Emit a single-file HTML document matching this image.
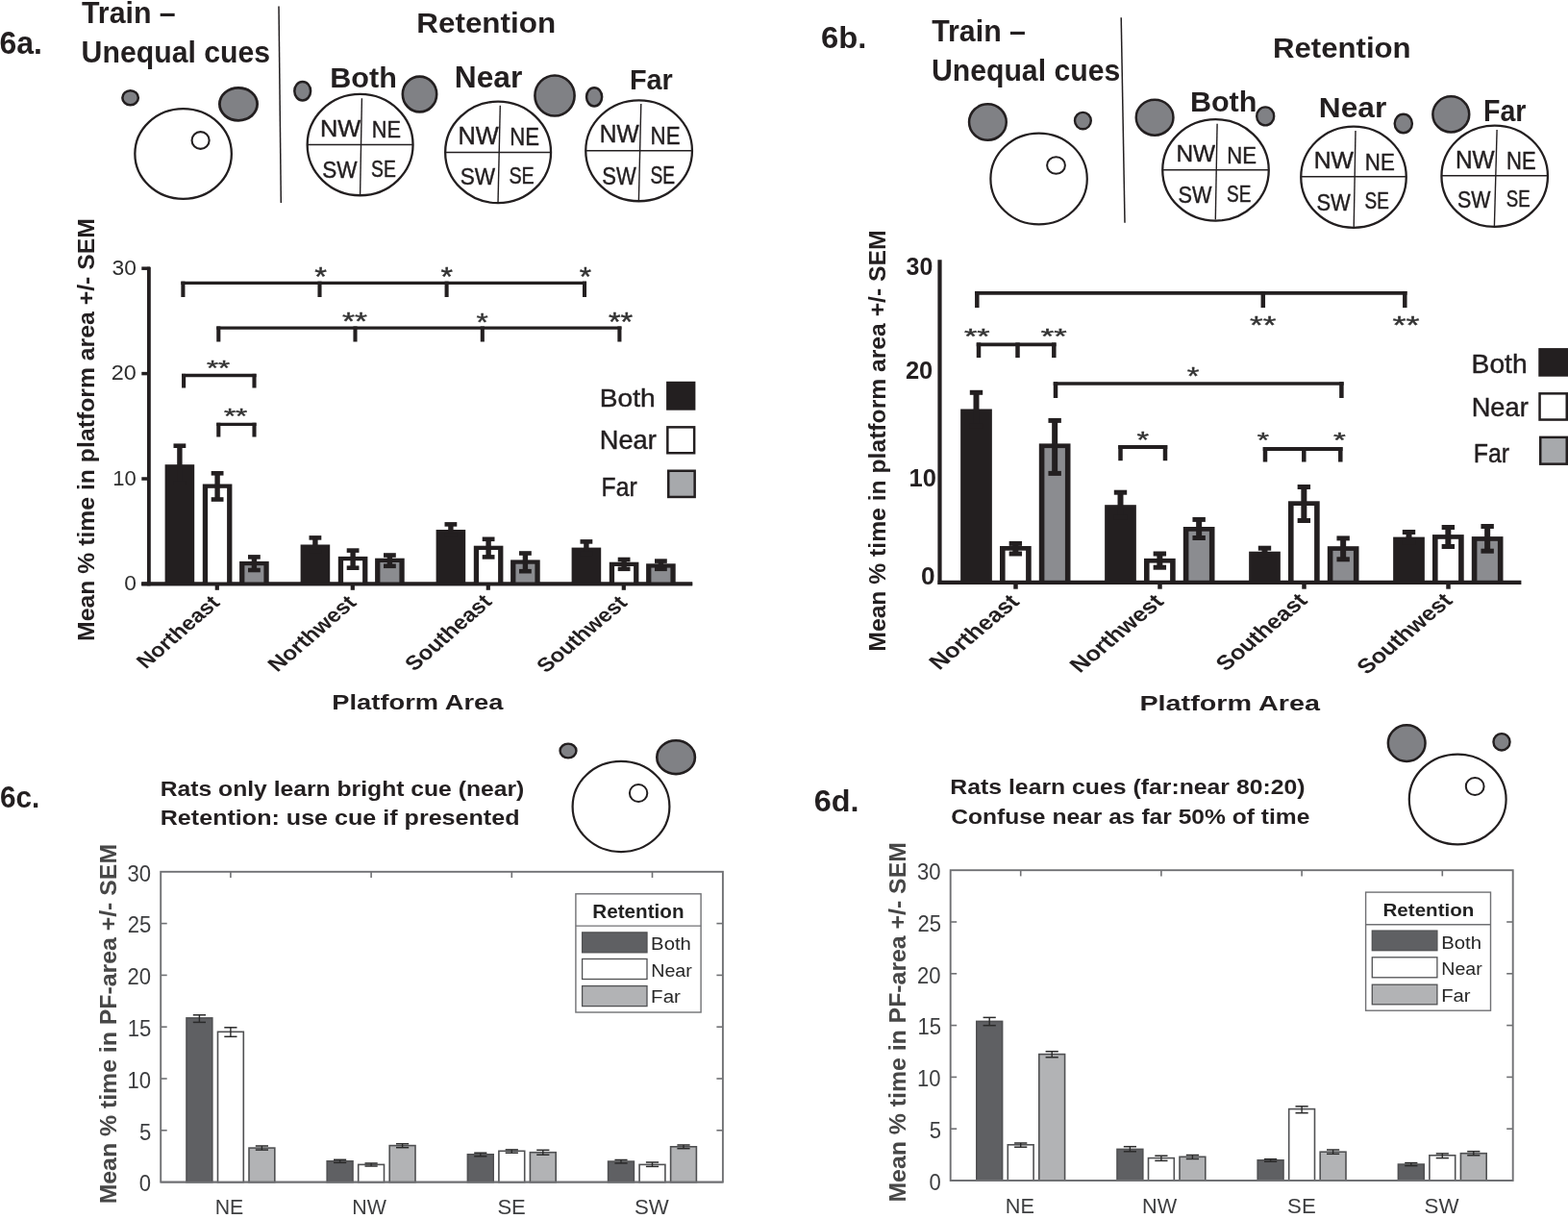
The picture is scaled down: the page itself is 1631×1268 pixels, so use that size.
<!DOCTYPE html>
<html><head><meta charset="utf-8"><title>Figure 6</title>
<style>html,body{margin:0;padding:0;background:#fff;}svg{display:block;}
text{font-family:"Liberation Sans", Arial, sans-serif;}</style></head>
<body><svg width="1631" height="1268" viewBox="0 0 1631 1268">
<rect x="0" y="0" width="1631" height="1268" fill="#ffffff"/>
<text transform="translate(-0.6 56) scale(0.97841 1)" font-size="32.711" font-weight="bold" fill="#231f20">6a.</text>
<text transform="translate(85 23.5) scale(0.98976 1)" font-size="30.638" font-weight="bold" fill="#231f20">Train –</text>
<text transform="translate(84.58 65.3) scale(0.98275 1)" font-size="30.774" font-weight="bold" fill="#231f20">Unequal cues</text>
<line x1="290" y1="6.4" x2="292.3" y2="211" stroke="#231f20" stroke-width="1.5" stroke-linecap="butt"/>
<ellipse cx="135.6" cy="101.7" rx="8.25" ry="7.55" fill="#808185" stroke="#231f20" stroke-width="2.5"/>
<ellipse cx="248" cy="108.3" rx="19.6" ry="17" fill="#808185" stroke="#231f20" stroke-width="2.8"/>
<ellipse cx="190.6" cy="160" rx="50.25" ry="46.85" fill="none" stroke="#231f20" stroke-width="2.3"/>
<ellipse cx="208.6" cy="146" rx="9.05" ry="8.85" fill="white" stroke="#231f20" stroke-width="2.1"/>
<text transform="translate(433.34 34) scale(1.07253 1)" font-size="29.277" font-weight="bold" fill="#231f20">Retention</text>
<text transform="translate(343.29 90.5) scale(1.04394 1)" font-size="29.277" font-weight="bold" fill="#231f20">Both</text>
<text transform="translate(472.82 91) scale(1.03732 1)" font-size="30.578" font-weight="bold" fill="#231f20">Near</text>
<text transform="translate(654.9 93) scale(0.96176 1)" font-size="30.009" font-weight="bold" fill="#231f20">Far</text>
<ellipse cx="314.7" cy="94.7" rx="8.4" ry="9.75" fill="#808185" stroke="#231f20" stroke-width="2.5"/>
<ellipse cx="436.5" cy="98" rx="17.7" ry="18.4" fill="#808185" stroke="#231f20" stroke-width="2.6"/>
<ellipse cx="577" cy="99.5" rx="20.6" ry="21" fill="#808185" stroke="#231f20" stroke-width="2.6"/>
<ellipse cx="618.1" cy="100.8" rx="8.05" ry="9.65" fill="#808185" stroke="#231f20" stroke-width="2.5"/>
<ellipse cx="374.6" cy="150.6" rx="54.95" ry="52.65" fill="none" stroke="#231f20" stroke-width="2.3"/>
<line x1="320" y1="150.5" x2="429.2" y2="150.5" stroke="#231f20" stroke-width="1.5" stroke-linecap="butt"/>
<line x1="376.4" y1="102.3" x2="374.6" y2="202.5" stroke="#231f20" stroke-width="1.4" stroke-linecap="butt"/>
<text transform="translate(333.02 141.8) scale(1.02468 1)" font-size="24.747" font-weight="normal" fill="#231f20" stroke="#231f20" stroke-width="0.45">NW</text>
<text transform="translate(386.7 143.1) scale(0.90485 1)" font-size="24.036" font-weight="normal" fill="#231f20" stroke="#231f20" stroke-width="0.45">NE</text>
<text transform="translate(335.3 185) scale(0.91050 1)" font-size="24.747" font-weight="normal" fill="#231f20" stroke="#231f20" stroke-width="0.45">SW</text>
<text transform="translate(386 183.6) scale(0.78659 1)" font-size="24.604" font-weight="normal" fill="#231f20" stroke="#231f20" stroke-width="0.45">SE</text>
<ellipse cx="518.1" cy="158.4" rx="54.95" ry="52.75" fill="none" stroke="#231f20" stroke-width="2.3"/>
<line x1="463.5" y1="158.4" x2="572.7" y2="158.4" stroke="#231f20" stroke-width="1.5" stroke-linecap="butt"/>
<line x1="520.3" y1="109.7" x2="518" y2="211.7" stroke="#231f20" stroke-width="1.4" stroke-linecap="butt"/>
<text transform="translate(476.52 149.8) scale(1.00731 1)" font-size="25.173" font-weight="normal" fill="#231f20" stroke="#231f20" stroke-width="0.45">NW</text>
<text transform="translate(530.17 150.7) scale(0.88966 1)" font-size="24.889" font-weight="normal" fill="#231f20" stroke="#231f20" stroke-width="0.45">NE</text>
<text transform="translate(478.69 192.4) scale(0.91304 1)" font-size="24.747" font-weight="normal" fill="#231f20" stroke="#231f20" stroke-width="0.45">SW</text>
<text transform="translate(529.38 191) scale(0.81688 1)" font-size="24.178" font-weight="normal" fill="#231f20" stroke="#231f20" stroke-width="0.45">SE</text>
<ellipse cx="664.6" cy="156.8" rx="55.35" ry="52.45" fill="none" stroke="#231f20" stroke-width="2.3"/>
<line x1="609.6" y1="156.8" x2="719.6" y2="156.8" stroke="#231f20" stroke-width="1.5" stroke-linecap="butt"/>
<line x1="666.8" y1="107.9" x2="664.4" y2="209" stroke="#231f20" stroke-width="1.4" stroke-linecap="butt"/>
<text transform="translate(623.68 148.3) scale(0.98612 1)" font-size="24.889" font-weight="normal" fill="#231f20" stroke="#231f20" stroke-width="0.45">NW</text>
<text transform="translate(676.56 149.7) scale(0.89599 1)" font-size="24.889" font-weight="normal" fill="#231f20" stroke="#231f20" stroke-width="0.45">NE</text>
<text transform="translate(626.31 191.5) scale(0.86529 1)" font-size="25.458" font-weight="normal" fill="#231f20" stroke="#231f20" stroke-width="0.45">SW</text>
<text transform="translate(676.4 190.6) scale(0.74981 1)" font-size="25.600" font-weight="normal" fill="#231f20" stroke="#231f20" stroke-width="0.45">SE</text>
<line x1="154.9" y1="277.7" x2="154.9" y2="609.2" stroke="#231f20" stroke-width="3.8" stroke-linecap="butt"/>
<line x1="147.3" y1="279.2" x2="156" y2="279.2" stroke="#231f20" stroke-width="3.5" stroke-linecap="butt"/>
<line x1="147.3" y1="388.6" x2="156" y2="388.6" stroke="#231f20" stroke-width="3.5" stroke-linecap="butt"/>
<line x1="147.3" y1="498" x2="156" y2="498" stroke="#231f20" stroke-width="3.5" stroke-linecap="butt"/>
<line x1="147.3" y1="607.4" x2="156" y2="607.4" stroke="#231f20" stroke-width="3.5" stroke-linecap="butt"/>
<text transform="translate(116.49 286) scale(1.06963 1)" font-size="21.333" font-weight="normal" fill="#2e2e2e">30</text>
<text transform="translate(115.8 395.4) scale(1.09920 1)" font-size="21.333" font-weight="normal" fill="#2e2e2e">20</text>
<text transform="translate(117.32 504.8) scale(1.03364 1)" font-size="21.333" font-weight="normal" fill="#2e2e2e">10</text>
<text transform="translate(129.19 614.2) scale(1.06875 1)" font-size="21.333" font-weight="normal" fill="#2e2e2e">0</text>
<line x1="147.3" y1="607.4" x2="720.2" y2="607.4" stroke="#231f20" stroke-width="3.6" stroke-linecap="butt"/>
<line x1="225.8" y1="607.4" x2="225.8" y2="613.8" stroke="#231f20" stroke-width="4.2" stroke-linecap="butt"/>
<line x1="366.8" y1="607.4" x2="366.8" y2="613.8" stroke="#231f20" stroke-width="4.2" stroke-linecap="butt"/>
<line x1="507.8" y1="607.4" x2="507.8" y2="613.8" stroke="#231f20" stroke-width="4.2" stroke-linecap="butt"/>
<line x1="648.8" y1="607.4" x2="648.8" y2="613.8" stroke="#231f20" stroke-width="4.2" stroke-linecap="butt"/>
<rect x="171.6" y="483.2" width="30.6" height="124.2" fill="#231f20"/>
<line x1="186.9" y1="463.7" x2="186.9" y2="502.7" stroke="#231f20" stroke-width="5.4" stroke-linecap="butt"/>
<line x1="180.5" y1="463.7" x2="193.3" y2="463.7" stroke="#231f20" stroke-width="4.6" stroke-linecap="butt"/>
<line x1="180.5" y1="502.7" x2="193.3" y2="502.7" stroke="#231f20" stroke-width="4.6" stroke-linecap="butt"/>
<rect x="210.8" y="503.5" width="30.6" height="103.9" fill="#231f20"/>
<rect x="216.1" y="507.8" width="20" height="98.6" fill="white"/>
<line x1="226.1" y1="492.3" x2="226.1" y2="519.5" stroke="#231f20" stroke-width="5.4" stroke-linecap="butt"/>
<line x1="219.7" y1="492.3" x2="232.5" y2="492.3" stroke="#231f20" stroke-width="4.6" stroke-linecap="butt"/>
<line x1="219.7" y1="519.5" x2="232.5" y2="519.5" stroke="#231f20" stroke-width="4.6" stroke-linecap="butt"/>
<rect x="249.1" y="583.9" width="30.6" height="23.5" fill="#231f20"/>
<rect x="254.4" y="588.2" width="20" height="18.2" fill="#8b8c90"/>
<line x1="264.4" y1="579.4" x2="264.4" y2="593" stroke="#231f20" stroke-width="5.4" stroke-linecap="butt"/>
<line x1="258" y1="579.4" x2="270.8" y2="579.4" stroke="#231f20" stroke-width="4.6" stroke-linecap="butt"/>
<line x1="258" y1="593" x2="270.8" y2="593" stroke="#231f20" stroke-width="4.6" stroke-linecap="butt"/>
<rect x="312.6" y="566.5" width="30.6" height="40.9" fill="#231f20"/>
<line x1="327.9" y1="559.4" x2="327.9" y2="573.6" stroke="#231f20" stroke-width="5.4" stroke-linecap="butt"/>
<line x1="321.5" y1="559.4" x2="334.3" y2="559.4" stroke="#231f20" stroke-width="4.6" stroke-linecap="butt"/>
<line x1="321.5" y1="573.6" x2="334.3" y2="573.6" stroke="#231f20" stroke-width="4.6" stroke-linecap="butt"/>
<rect x="351.8" y="578.9" width="30.6" height="28.5" fill="#231f20"/>
<rect x="357.1" y="583.2" width="20" height="23.2" fill="white"/>
<line x1="367.1" y1="572.6" x2="367.1" y2="590.7" stroke="#231f20" stroke-width="5.4" stroke-linecap="butt"/>
<line x1="360.7" y1="572.6" x2="373.5" y2="572.6" stroke="#231f20" stroke-width="4.6" stroke-linecap="butt"/>
<line x1="360.7" y1="590.7" x2="373.5" y2="590.7" stroke="#231f20" stroke-width="4.6" stroke-linecap="butt"/>
<rect x="390.1" y="580.7" width="30.6" height="26.7" fill="#231f20"/>
<rect x="395.4" y="585" width="20" height="21.4" fill="#8b8c90"/>
<line x1="405.4" y1="577.5" x2="405.4" y2="588.8" stroke="#231f20" stroke-width="5.4" stroke-linecap="butt"/>
<line x1="399" y1="577.5" x2="411.8" y2="577.5" stroke="#231f20" stroke-width="4.6" stroke-linecap="butt"/>
<line x1="399" y1="588.8" x2="411.8" y2="588.8" stroke="#231f20" stroke-width="4.6" stroke-linecap="butt"/>
<rect x="453.6" y="551" width="30.6" height="56.4" fill="#231f20"/>
<line x1="468.9" y1="545.4" x2="468.9" y2="556.6" stroke="#231f20" stroke-width="5.4" stroke-linecap="butt"/>
<line x1="462.5" y1="545.4" x2="475.3" y2="545.4" stroke="#231f20" stroke-width="4.6" stroke-linecap="butt"/>
<line x1="462.5" y1="556.6" x2="475.3" y2="556.6" stroke="#231f20" stroke-width="4.6" stroke-linecap="butt"/>
<rect x="492.8" y="567.7" width="30.6" height="39.7" fill="#231f20"/>
<rect x="498.1" y="572" width="20" height="34.4" fill="white"/>
<line x1="508.1" y1="560.8" x2="508.1" y2="579.4" stroke="#231f20" stroke-width="5.4" stroke-linecap="butt"/>
<line x1="501.7" y1="560.8" x2="514.5" y2="560.8" stroke="#231f20" stroke-width="4.6" stroke-linecap="butt"/>
<line x1="501.7" y1="579.4" x2="514.5" y2="579.4" stroke="#231f20" stroke-width="4.6" stroke-linecap="butt"/>
<rect x="531.1" y="582.4" width="30.6" height="25" fill="#231f20"/>
<rect x="536.4" y="586.7" width="20" height="19.7" fill="#8b8c90"/>
<line x1="546.4" y1="575.5" x2="546.4" y2="594.2" stroke="#231f20" stroke-width="5.4" stroke-linecap="butt"/>
<line x1="540" y1="575.5" x2="552.8" y2="575.5" stroke="#231f20" stroke-width="4.6" stroke-linecap="butt"/>
<line x1="540" y1="594.2" x2="552.8" y2="594.2" stroke="#231f20" stroke-width="4.6" stroke-linecap="butt"/>
<rect x="594.6" y="569.6" width="30.6" height="37.8" fill="#231f20"/>
<line x1="609.9" y1="563.4" x2="609.9" y2="575.8" stroke="#231f20" stroke-width="5.4" stroke-linecap="butt"/>
<line x1="603.5" y1="563.4" x2="616.3" y2="563.4" stroke="#231f20" stroke-width="4.6" stroke-linecap="butt"/>
<line x1="603.5" y1="575.8" x2="616.3" y2="575.8" stroke="#231f20" stroke-width="4.6" stroke-linecap="butt"/>
<rect x="633.8" y="584.7" width="30.6" height="22.7" fill="#231f20"/>
<rect x="639.1" y="589" width="20" height="17.4" fill="white"/>
<line x1="649.1" y1="582" x2="649.1" y2="591.8" stroke="#231f20" stroke-width="5.4" stroke-linecap="butt"/>
<line x1="642.7" y1="582" x2="655.5" y2="582" stroke="#231f20" stroke-width="4.6" stroke-linecap="butt"/>
<line x1="642.7" y1="591.8" x2="655.5" y2="591.8" stroke="#231f20" stroke-width="4.6" stroke-linecap="butt"/>
<rect x="672.1" y="586.3" width="30.6" height="21.1" fill="#231f20"/>
<rect x="677.4" y="590.6" width="20" height="15.8" fill="#8b8c90"/>
<line x1="687.4" y1="583.6" x2="687.4" y2="591.8" stroke="#231f20" stroke-width="5.4" stroke-linecap="butt"/>
<line x1="681" y1="583.6" x2="693.8" y2="583.6" stroke="#231f20" stroke-width="4.6" stroke-linecap="butt"/>
<line x1="681" y1="591.8" x2="693.8" y2="591.8" stroke="#231f20" stroke-width="4.6" stroke-linecap="butt"/>
<line x1="147.3" y1="607.4" x2="720.2" y2="607.4" stroke="#231f20" stroke-width="3.6" stroke-linecap="butt"/>
<line x1="188.35" y1="294.3" x2="610.05" y2="294.3" stroke="#231f20" stroke-width="3.3" stroke-linecap="butt"/>
<line x1="190.4" y1="292.65" x2="190.4" y2="309" stroke="#231f20" stroke-width="4.1" stroke-linecap="butt"/>
<line x1="332.5" y1="292.65" x2="332.5" y2="309" stroke="#231f20" stroke-width="4.1" stroke-linecap="butt"/>
<line x1="464.6" y1="292.65" x2="464.6" y2="309" stroke="#231f20" stroke-width="4.1" stroke-linecap="butt"/>
<line x1="608" y1="292.65" x2="608" y2="309" stroke="#231f20" stroke-width="4.1" stroke-linecap="butt"/>
<line x1="225.25" y1="341.1" x2="646.45" y2="341.1" stroke="#231f20" stroke-width="3.3" stroke-linecap="butt"/>
<line x1="227.3" y1="339.45" x2="227.3" y2="355.5" stroke="#231f20" stroke-width="4.1" stroke-linecap="butt"/>
<line x1="369.5" y1="339.45" x2="369.5" y2="355.5" stroke="#231f20" stroke-width="4.1" stroke-linecap="butt"/>
<line x1="501.8" y1="339.45" x2="501.8" y2="355.5" stroke="#231f20" stroke-width="4.1" stroke-linecap="butt"/>
<line x1="644.4" y1="339.45" x2="644.4" y2="355.5" stroke="#231f20" stroke-width="4.1" stroke-linecap="butt"/>
<line x1="189.05" y1="390.5" x2="266.55" y2="390.5" stroke="#231f20" stroke-width="3.3" stroke-linecap="butt"/>
<line x1="191.1" y1="388.85" x2="191.1" y2="403.5" stroke="#231f20" stroke-width="4.1" stroke-linecap="butt"/>
<line x1="264.5" y1="388.85" x2="264.5" y2="403.5" stroke="#231f20" stroke-width="4.1" stroke-linecap="butt"/>
<line x1="225.25" y1="441.4" x2="266.55" y2="441.4" stroke="#231f20" stroke-width="3.3" stroke-linecap="butt"/>
<line x1="227.3" y1="439.75" x2="227.3" y2="454.5" stroke="#231f20" stroke-width="4.1" stroke-linecap="butt"/>
<line x1="264.5" y1="439.75" x2="264.5" y2="454.5" stroke="#231f20" stroke-width="4.1" stroke-linecap="butt"/>
<text transform="translate(327.19 297.04) scale(1.20878 1)" font-size="26.933" font-weight="normal" fill="#333333" stroke="#333333" stroke-width="0.4">*</text>
<text transform="translate(458.5 297.04) scale(1.18812 1)" font-size="26.933" font-weight="normal" fill="#333333" stroke="#333333" stroke-width="0.4">*</text>
<text transform="translate(602.7 297.04) scale(1.17779 1)" font-size="26.933" font-weight="normal" fill="#333333" stroke="#333333" stroke-width="0.4">*</text>
<text transform="translate(355.88 342.75) scale(1.25245 1)" font-size="26.667" font-weight="normal" fill="#333333" stroke="#333333" stroke-width="0.4">**</text>
<text transform="translate(495.41 343.75) scale(1.17913 1)" font-size="26.667" font-weight="normal" fill="#333333" stroke="#333333" stroke-width="0.4">*</text>
<text transform="translate(632.89 344.01) scale(1.18192 1)" font-size="27.467" font-weight="normal" fill="#333333" stroke="#333333" stroke-width="0.4">**</text>
<text transform="translate(214.91 389.88) scale(1.42351 1)" font-size="21.867" font-weight="normal" fill="#333333" stroke="#333333" stroke-width="0.4">**</text>
<text transform="translate(232.91 440) scale(1.46536 1)" font-size="21.333" font-weight="normal" fill="#333333" stroke="#333333" stroke-width="0.4">**</text>
<text transform="translate(623.7 422.9) scale(1.09524 1)" font-size="25.736" font-weight="normal" fill="#231f20" stroke="#231f20" stroke-width="0.45">Both</text>
<text transform="translate(623.77 467.1) scale(1.00662 1)" font-size="27.022" font-weight="normal" fill="#231f20" stroke="#231f20" stroke-width="0.45">Near</text>
<text transform="translate(625.57 515.6) scale(0.91891 1)" font-size="26.880" font-weight="normal" fill="#231f20" stroke="#231f20" stroke-width="0.45">Far</text>
<rect x="693.1" y="396.8" width="30.3" height="29.9" fill="#231f20"/>
<rect x="693.1" y="443.1" width="30.3" height="29.4" fill="#231f20"/>
<rect x="695.6" y="445.6" width="25.3" height="24.4" fill="white"/>
<rect x="694" y="488.5" width="29.9" height="29.7" fill="#231f20"/>
<rect x="696.5" y="491" width="24.9" height="24.7" fill="#a7a9ac"/>
<text transform="translate(345.29 738.3) scale(1.25451 1)" font-size="21.787" font-weight="bold" fill="#231f20">Platform Area</text>
<text transform="translate(98 666.95) rotate(-90) scale(1.00558 1)" font-size="24.647" font-weight="bold" fill="#231f20">Mean % time in platform area +/- SEM</text>
<text transform="translate(151.78 696.59) scale(1.14 1) rotate(-45)" font-size="20.759" font-weight="bold" fill="#231f20">Northeast</text>
<text transform="translate(288.6 699.87) scale(1.16 1) rotate(-45)" font-size="20.804" font-weight="bold" fill="#231f20">Northwest</text>
<text transform="translate(431.03 698.99) scale(1.14 1) rotate(-45)" font-size="21.023" font-weight="bold" fill="#231f20">Southeast</text>
<text transform="translate(567.95 700.86) scale(1.18 1) rotate(-45)" font-size="20.344" font-weight="bold" fill="#231f20">Southwest</text>
<text transform="translate(853.98 50) scale(1.03316 1)" font-size="31.728" font-weight="bold" fill="#231f20">6b.</text>
<text transform="translate(969.2 42.7) scale(0.97247 1)" font-size="31.183" font-weight="bold" fill="#231f20">Train –</text>
<text transform="translate(968.88 84.4) scale(0.96938 1)" font-size="31.183" font-weight="bold" fill="#231f20">Unequal cues</text>
<line x1="1166.2" y1="18.3" x2="1170" y2="231.8" stroke="#231f20" stroke-width="1.5" stroke-linecap="butt"/>
<ellipse cx="1027.4" cy="127" rx="19.35" ry="18.75" fill="#808185" stroke="#231f20" stroke-width="2.5"/>
<ellipse cx="1126.4" cy="125.6" rx="8.4" ry="8.7" fill="#808185" stroke="#231f20" stroke-width="2.4"/>
<ellipse cx="1080.6" cy="186" rx="50.2" ry="47.4" fill="none" stroke="#231f20" stroke-width="2.2"/>
<ellipse cx="1098.5" cy="172" rx="9.4" ry="8.8" fill="white" stroke="#231f20" stroke-width="2"/>
<text transform="translate(1324.05 59.5) scale(1.03925 1)" font-size="29.957" font-weight="bold" fill="#231f20">Retention</text>
<text transform="translate(1237.89 116.1) scale(1.03432 1)" font-size="29.549" font-weight="bold" fill="#231f20">Both</text>
<text transform="translate(1371.82 122.1) scale(1.05046 1)" font-size="30.151" font-weight="bold" fill="#231f20">Near</text>
<text transform="translate(1543.01 126.3) scale(0.92640 1)" font-size="30.862" font-weight="bold" fill="#231f20">Far</text>
<ellipse cx="1201.1" cy="122.2" rx="19.35" ry="18.45" fill="#808185" stroke="#231f20" stroke-width="2.5"/>
<ellipse cx="1316.2" cy="120.9" rx="9" ry="9.5" fill="#808185" stroke="#231f20" stroke-width="2.4"/>
<ellipse cx="1459.8" cy="128.5" rx="9.1" ry="9.8" fill="#808185" stroke="#231f20" stroke-width="2.4"/>
<ellipse cx="1509.3" cy="118.9" rx="18.95" ry="18.55" fill="#808185" stroke="#231f20" stroke-width="2.5"/>
<ellipse cx="1264.5" cy="176.9" rx="55.25" ry="52.75" fill="none" stroke="#231f20" stroke-width="2.3"/>
<line x1="1209.6" y1="176.7" x2="1319.4" y2="176.7" stroke="#231f20" stroke-width="1.5" stroke-linecap="butt"/>
<line x1="1266.1" y1="128.8" x2="1264.3" y2="228.6" stroke="#231f20" stroke-width="1.4" stroke-linecap="butt"/>
<text transform="translate(1223.39 167.8) scale(0.99820 1)" font-size="24.462" font-weight="normal" fill="#231f20" stroke="#231f20" stroke-width="0.45">NW</text>
<text transform="translate(1276.17 169.6) scale(0.90518 1)" font-size="24.462" font-weight="normal" fill="#231f20" stroke="#231f20" stroke-width="0.45">NE</text>
<text transform="translate(1225.52 211.4) scale(0.88251 1)" font-size="24.604" font-weight="normal" fill="#231f20" stroke="#231f20" stroke-width="0.45">SW</text>
<text transform="translate(1276.11 209.6) scale(0.77047 1)" font-size="24.604" font-weight="normal" fill="#231f20" stroke="#231f20" stroke-width="0.45">SE</text>
<ellipse cx="1408" cy="184.2" rx="54.75" ry="52.65" fill="none" stroke="#231f20" stroke-width="2.3"/>
<line x1="1353.6" y1="183.7" x2="1462.4" y2="183.7" stroke="#231f20" stroke-width="1.5" stroke-linecap="butt"/>
<line x1="1410" y1="135.9" x2="1408.2" y2="237" stroke="#231f20" stroke-width="1.4" stroke-linecap="butt"/>
<text transform="translate(1366.66 175.4) scale(1.01949 1)" font-size="24.320" font-weight="normal" fill="#231f20" stroke="#231f20" stroke-width="0.45">NW</text>
<text transform="translate(1419.86 176.7) scale(0.92780 1)" font-size="24.036" font-weight="normal" fill="#231f20" stroke="#231f20" stroke-width="0.45">NE</text>
<text transform="translate(1369.41 218.6) scale(0.88761 1)" font-size="24.747" font-weight="normal" fill="#231f20" stroke="#231f20" stroke-width="0.45">SW</text>
<text transform="translate(1419.51 217.2) scale(0.77047 1)" font-size="24.604" font-weight="normal" fill="#231f20" stroke="#231f20" stroke-width="0.45">SE</text>
<ellipse cx="1554.7" cy="183.2" rx="55.25" ry="52.65" fill="none" stroke="#231f20" stroke-width="2.3"/>
<line x1="1499.8" y1="182.8" x2="1609.6" y2="182.8" stroke="#231f20" stroke-width="1.5" stroke-linecap="butt"/>
<line x1="1557.1" y1="135" x2="1554.4" y2="235.2" stroke="#231f20" stroke-width="1.4" stroke-linecap="butt"/>
<text transform="translate(1513.89 174.5) scale(0.98109 1)" font-size="24.889" font-weight="normal" fill="#231f20" stroke="#231f20" stroke-width="0.45">NW</text>
<text transform="translate(1566.98 176) scale(0.87648 1)" font-size="25.173" font-weight="normal" fill="#231f20" stroke="#231f20" stroke-width="0.45">NE</text>
<text transform="translate(1516.03 216.4) scale(0.91188 1)" font-size="23.467" font-weight="normal" fill="#231f20" stroke="#231f20" stroke-width="0.45">SW</text>
<text transform="translate(1566.72 215.3) scale(0.79431 1)" font-size="23.467" font-weight="normal" fill="#231f20" stroke="#231f20" stroke-width="0.45">SE</text>
<line x1="977.5" y1="270.3" x2="977.5" y2="607.9" stroke="#231f20" stroke-width="4.2" stroke-linecap="butt"/>
<text transform="translate(942.61 286) scale(0.98341 1)" font-size="25.322" font-weight="bold" fill="#231f20">30</text>
<text transform="translate(941.9 394.31) scale(1.01514 1)" font-size="25.183" font-weight="bold" fill="#231f20">20</text>
<text transform="translate(945.5 506.41) scale(1.02074 1)" font-size="25.043" font-weight="bold" fill="#231f20">10</text>
<text transform="translate(958.08 608.4) scale(1.02419 1)" font-size="25.600" font-weight="bold" fill="#231f20">0</text>
<line x1="1056.5" y1="605.8" x2="1056.5" y2="612.7" stroke="#231f20" stroke-width="4.5" stroke-linecap="butt"/>
<line x1="1206.5" y1="605.8" x2="1206.5" y2="612.7" stroke="#231f20" stroke-width="4.5" stroke-linecap="butt"/>
<line x1="1356.5" y1="605.8" x2="1356.5" y2="612.7" stroke="#231f20" stroke-width="4.5" stroke-linecap="butt"/>
<line x1="1506.5" y1="605.8" x2="1506.5" y2="612.7" stroke="#231f20" stroke-width="4.5" stroke-linecap="butt"/>
<rect x="999.15" y="425.5" width="32.7" height="180.3" fill="#231f20"/>
<line x1="1015.5" y1="408.3" x2="1015.5" y2="442.7" stroke="#231f20" stroke-width="6" stroke-linecap="butt"/>
<line x1="1008.8" y1="408.3" x2="1022.2" y2="408.3" stroke="#231f20" stroke-width="5" stroke-linecap="butt"/>
<line x1="1008.8" y1="442.7" x2="1022.2" y2="442.7" stroke="#231f20" stroke-width="5" stroke-linecap="butt"/>
<rect x="1040" y="568" width="32.7" height="37.8" fill="#231f20"/>
<rect x="1045.6" y="572.7" width="21.5" height="32.1" fill="white"/>
<line x1="1056.35" y1="565.4" x2="1056.35" y2="576" stroke="#231f20" stroke-width="6" stroke-linecap="butt"/>
<line x1="1049.65" y1="565.4" x2="1063.05" y2="565.4" stroke="#231f20" stroke-width="5" stroke-linecap="butt"/>
<line x1="1049.65" y1="576" x2="1063.05" y2="576" stroke="#231f20" stroke-width="5" stroke-linecap="butt"/>
<rect x="1080.8" y="461.4" width="32.7" height="144.4" fill="#231f20"/>
<rect x="1086.4" y="466.1" width="21.5" height="138.7" fill="#8b8c90"/>
<line x1="1097.15" y1="437.4" x2="1097.15" y2="492.4" stroke="#231f20" stroke-width="6" stroke-linecap="butt"/>
<line x1="1090.45" y1="437.4" x2="1103.85" y2="437.4" stroke="#231f20" stroke-width="5" stroke-linecap="butt"/>
<line x1="1090.45" y1="492.4" x2="1103.85" y2="492.4" stroke="#231f20" stroke-width="5" stroke-linecap="butt"/>
<rect x="1149.15" y="525.2" width="32.7" height="80.6" fill="#231f20"/>
<line x1="1165.5" y1="512.2" x2="1165.5" y2="538.2" stroke="#231f20" stroke-width="6" stroke-linecap="butt"/>
<line x1="1158.8" y1="512.2" x2="1172.2" y2="512.2" stroke="#231f20" stroke-width="5" stroke-linecap="butt"/>
<line x1="1158.8" y1="538.2" x2="1172.2" y2="538.2" stroke="#231f20" stroke-width="5" stroke-linecap="butt"/>
<rect x="1190" y="580.9" width="32.7" height="24.9" fill="#231f20"/>
<rect x="1195.6" y="585.6" width="21.5" height="19.2" fill="white"/>
<line x1="1206.35" y1="576" x2="1206.35" y2="590.2" stroke="#231f20" stroke-width="6" stroke-linecap="butt"/>
<line x1="1199.65" y1="576" x2="1213.05" y2="576" stroke="#231f20" stroke-width="5" stroke-linecap="butt"/>
<line x1="1199.65" y1="590.2" x2="1213.05" y2="590.2" stroke="#231f20" stroke-width="5" stroke-linecap="butt"/>
<rect x="1230.8" y="548" width="32.7" height="57.8" fill="#231f20"/>
<rect x="1236.4" y="552.7" width="21.5" height="52.1" fill="#8b8c90"/>
<line x1="1247.15" y1="540.4" x2="1247.15" y2="559.5" stroke="#231f20" stroke-width="6" stroke-linecap="butt"/>
<line x1="1240.45" y1="540.4" x2="1253.85" y2="540.4" stroke="#231f20" stroke-width="5" stroke-linecap="butt"/>
<line x1="1240.45" y1="559.5" x2="1253.85" y2="559.5" stroke="#231f20" stroke-width="5" stroke-linecap="butt"/>
<rect x="1299.15" y="573.7" width="32.7" height="32.1" fill="#231f20"/>
<line x1="1315.5" y1="570.2" x2="1315.5" y2="577.2" stroke="#231f20" stroke-width="6" stroke-linecap="butt"/>
<line x1="1308.8" y1="570.2" x2="1322.2" y2="570.2" stroke="#231f20" stroke-width="5" stroke-linecap="butt"/>
<line x1="1308.8" y1="577.2" x2="1322.2" y2="577.2" stroke="#231f20" stroke-width="5" stroke-linecap="butt"/>
<rect x="1340" y="521.3" width="32.7" height="84.5" fill="#231f20"/>
<rect x="1345.6" y="526" width="21.5" height="78.8" fill="white"/>
<line x1="1356.35" y1="506.5" x2="1356.35" y2="541.5" stroke="#231f20" stroke-width="6" stroke-linecap="butt"/>
<line x1="1349.65" y1="506.5" x2="1363.05" y2="506.5" stroke="#231f20" stroke-width="5" stroke-linecap="butt"/>
<line x1="1349.65" y1="541.5" x2="1363.05" y2="541.5" stroke="#231f20" stroke-width="5" stroke-linecap="butt"/>
<rect x="1380.8" y="568.2" width="32.7" height="37.6" fill="#231f20"/>
<rect x="1386.4" y="572.9" width="21.5" height="31.9" fill="#8b8c90"/>
<line x1="1397.15" y1="559.9" x2="1397.15" y2="581.8" stroke="#231f20" stroke-width="6" stroke-linecap="butt"/>
<line x1="1390.45" y1="559.9" x2="1403.85" y2="559.9" stroke="#231f20" stroke-width="5" stroke-linecap="butt"/>
<line x1="1390.45" y1="581.8" x2="1403.85" y2="581.8" stroke="#231f20" stroke-width="5" stroke-linecap="butt"/>
<rect x="1449.15" y="558.6" width="32.7" height="47.2" fill="#231f20"/>
<line x1="1465.5" y1="553.5" x2="1465.5" y2="563.7" stroke="#231f20" stroke-width="6" stroke-linecap="butt"/>
<line x1="1458.8" y1="553.5" x2="1472.2" y2="553.5" stroke="#231f20" stroke-width="5" stroke-linecap="butt"/>
<line x1="1458.8" y1="563.7" x2="1472.2" y2="563.7" stroke="#231f20" stroke-width="5" stroke-linecap="butt"/>
<rect x="1490" y="556.1" width="32.7" height="49.7" fill="#231f20"/>
<rect x="1495.6" y="560.8" width="21.5" height="44" fill="white"/>
<line x1="1506.35" y1="548.5" x2="1506.35" y2="568.5" stroke="#231f20" stroke-width="6" stroke-linecap="butt"/>
<line x1="1499.65" y1="548.5" x2="1513.05" y2="548.5" stroke="#231f20" stroke-width="5" stroke-linecap="butt"/>
<line x1="1499.65" y1="568.5" x2="1513.05" y2="568.5" stroke="#231f20" stroke-width="5" stroke-linecap="butt"/>
<rect x="1530.8" y="558.1" width="32.7" height="47.7" fill="#231f20"/>
<rect x="1536.4" y="562.8" width="21.5" height="42" fill="#8b8c90"/>
<line x1="1547.15" y1="547.5" x2="1547.15" y2="573.2" stroke="#231f20" stroke-width="6" stroke-linecap="butt"/>
<line x1="1540.45" y1="547.5" x2="1553.85" y2="547.5" stroke="#231f20" stroke-width="5" stroke-linecap="butt"/>
<line x1="1540.45" y1="573.2" x2="1553.85" y2="573.2" stroke="#231f20" stroke-width="5" stroke-linecap="butt"/>
<line x1="975.6" y1="605.8" x2="1582.4" y2="605.8" stroke="#231f20" stroke-width="4.3" stroke-linecap="butt"/>
<line x1="1014.05" y1="304.8" x2="1463.55" y2="304.8" stroke="#231f20" stroke-width="3.8" stroke-linecap="butt"/>
<line x1="1016.3" y1="302.9" x2="1016.3" y2="320.1" stroke="#231f20" stroke-width="4.5" stroke-linecap="butt"/>
<line x1="1313.8" y1="302.9" x2="1313.8" y2="320.1" stroke="#231f20" stroke-width="4.5" stroke-linecap="butt"/>
<line x1="1461.3" y1="302.9" x2="1461.3" y2="320.1" stroke="#231f20" stroke-width="4.5" stroke-linecap="butt"/>
<line x1="1015.75" y1="358.3" x2="1098.55" y2="358.3" stroke="#231f20" stroke-width="3.8" stroke-linecap="butt"/>
<line x1="1018" y1="356.4" x2="1018" y2="372.1" stroke="#231f20" stroke-width="4.5" stroke-linecap="butt"/>
<line x1="1058.5" y1="356.4" x2="1058.5" y2="372.1" stroke="#231f20" stroke-width="4.5" stroke-linecap="butt"/>
<line x1="1096.3" y1="356.4" x2="1096.3" y2="372.1" stroke="#231f20" stroke-width="4.5" stroke-linecap="butt"/>
<line x1="1095.75" y1="399" x2="1397.65" y2="399" stroke="#231f20" stroke-width="3.6" stroke-linecap="butt"/>
<line x1="1098" y1="397.2" x2="1098" y2="414" stroke="#231f20" stroke-width="4.5" stroke-linecap="butt"/>
<line x1="1395.4" y1="397.2" x2="1395.4" y2="414" stroke="#231f20" stroke-width="4.5" stroke-linecap="butt"/>
<line x1="1163.25" y1="465" x2="1214.25" y2="465" stroke="#231f20" stroke-width="3.8" stroke-linecap="butt"/>
<line x1="1165.5" y1="463.1" x2="1165.5" y2="479.2" stroke="#231f20" stroke-width="4.5" stroke-linecap="butt"/>
<line x1="1212" y1="463.1" x2="1212" y2="479.2" stroke="#231f20" stroke-width="4.5" stroke-linecap="butt"/>
<line x1="1313.75" y1="467" x2="1396.55" y2="467" stroke="#231f20" stroke-width="3.8" stroke-linecap="butt"/>
<line x1="1316" y1="465.1" x2="1316" y2="480.5" stroke="#231f20" stroke-width="4.5" stroke-linecap="butt"/>
<line x1="1356.3" y1="465.1" x2="1356.3" y2="480.5" stroke="#231f20" stroke-width="4.5" stroke-linecap="butt"/>
<line x1="1394.3" y1="465.1" x2="1394.3" y2="480.5" stroke="#231f20" stroke-width="4.5" stroke-linecap="butt"/>
<text transform="translate(1300.05 346.55) scale(1.31757 1)" font-size="26.667" font-weight="normal" fill="#333333" stroke="#333333" stroke-width="0.4">**</text>
<text transform="translate(1448.44 346.55) scale(1.35264 1)" font-size="26.667" font-weight="normal" fill="#333333" stroke="#333333" stroke-width="0.4">**</text>
<text transform="translate(1003.07 357.2) scale(1.59687 1)" font-size="21.333" font-weight="normal" fill="#333333" stroke="#333333" stroke-width="0.4">**</text>
<text transform="translate(1082.86 357.2) scale(1.61566 1)" font-size="21.333" font-weight="normal" fill="#333333" stroke="#333333" stroke-width="0.4">**</text>
<text transform="translate(1234.79 399.62) scale(1.29880 1)" font-size="25.067" font-weight="normal" fill="#333333" stroke="#333333" stroke-width="0.4">*</text>
<text transform="translate(1182.4 465.96) scale(1.33015 1)" font-size="24.267" font-weight="normal" fill="#333333" stroke="#333333" stroke-width="0.4">*</text>
<text transform="translate(1307.71 464.89) scale(1.45572 1)" font-size="21.600" font-weight="normal" fill="#333333" stroke="#333333" stroke-width="0.4">*</text>
<text transform="translate(1387.09 464.89) scale(1.52013 1)" font-size="21.600" font-weight="normal" fill="#333333" stroke="#333333" stroke-width="0.4">*</text>
<text transform="translate(1530.59 388.2) scale(1.04739 1)" font-size="26.962" font-weight="normal" fill="#231f20" stroke="#231f20" stroke-width="0.45">Both</text>
<text transform="translate(1530.67 432.8) scale(0.97753 1)" font-size="27.876" font-weight="normal" fill="#231f20" stroke="#231f20" stroke-width="0.45">Near</text>
<text transform="translate(1532.75 481.3) scale(0.89827 1)" font-size="27.733" font-weight="normal" fill="#231f20" stroke="#231f20" stroke-width="0.45">Far</text>
<rect x="1600.3" y="362.1" width="31.7" height="29.6" fill="#231f20"/>
<rect x="1600.3" y="408.1" width="31.7" height="29.7" fill="#231f20"/>
<rect x="1602.8" y="410.6" width="25.7" height="24.7" fill="white"/>
<rect x="1601" y="453.6" width="31" height="30.3" fill="#231f20"/>
<rect x="1603.5" y="456.1" width="25" height="25.3" fill="#a7a9ac"/>
<text transform="translate(1185.4 739.3) scale(1.27313 1)" font-size="22.604" font-weight="bold" fill="#231f20">Platform Area</text>
<text transform="translate(921.2 677.64) rotate(-90) scale(1.01855 1)" font-size="24.238" font-weight="bold" fill="#231f20">Mean % time in platform area +/- SEM</text>
<text transform="translate(976.94 697.75) scale(1.2 1) rotate(-45)" font-size="21.403" font-weight="bold" fill="#231f20">Northeast</text>
<text transform="translate(1123.31 700.8) scale(1.2 1) rotate(-45)" font-size="21.360" font-weight="bold" fill="#231f20">Northwest</text>
<text transform="translate(1275.08 698.92) scale(1.18 1) rotate(-45)" font-size="21.375" font-weight="bold" fill="#231f20">Southeast</text>
<text transform="translate(1421.8 702.5) scale(1.18 1) rotate(-45)" font-size="21.417" font-weight="bold" fill="#231f20">Southwest</text>
<text transform="translate(-0.03 839.7) scale(0.94482 1)" font-size="31.431" font-weight="bold" fill="#231f20">6c.</text>
<text transform="translate(166.76 827.7) scale(1.09883 1)" font-size="22.468" font-weight="bold" fill="#231f20">Rats only learn bright cue (near)</text>
<text transform="translate(166.73 858.4) scale(1.15235 1)" font-size="21.787" font-weight="bold" fill="#231f20">Retention: use cue if presented</text>
<ellipse cx="591" cy="781" rx="8.45" ry="7.4" fill="#808185" stroke="#231f20" stroke-width="2.4"/>
<ellipse cx="703.1" cy="787.7" rx="19.8" ry="17.4" fill="#808185" stroke="#231f20" stroke-width="2.6"/>
<ellipse cx="646" cy="839" rx="50.4" ry="47.1" fill="none" stroke="#231f20" stroke-width="2.2"/>
<ellipse cx="664.1" cy="825" rx="9.2" ry="9" fill="white" stroke="#231f20" stroke-width="2"/>
<rect x="167.2" y="906.8" width="584.7" height="322.8" fill="white" stroke="#707174" stroke-width="1.9"/>
<line x1="167.2" y1="1175.8" x2="173.7" y2="1175.8" stroke="#707174" stroke-width="1.6" stroke-linecap="butt"/>
<line x1="745.4" y1="1175.8" x2="751.9" y2="1175.8" stroke="#707174" stroke-width="1.6" stroke-linecap="butt"/>
<line x1="167.2" y1="1122" x2="173.7" y2="1122" stroke="#707174" stroke-width="1.6" stroke-linecap="butt"/>
<line x1="745.4" y1="1122" x2="751.9" y2="1122" stroke="#707174" stroke-width="1.6" stroke-linecap="butt"/>
<line x1="167.2" y1="1068.2" x2="173.7" y2="1068.2" stroke="#707174" stroke-width="1.6" stroke-linecap="butt"/>
<line x1="745.4" y1="1068.2" x2="751.9" y2="1068.2" stroke="#707174" stroke-width="1.6" stroke-linecap="butt"/>
<line x1="167.2" y1="1014.4" x2="173.7" y2="1014.4" stroke="#707174" stroke-width="1.6" stroke-linecap="butt"/>
<line x1="745.4" y1="1014.4" x2="751.9" y2="1014.4" stroke="#707174" stroke-width="1.6" stroke-linecap="butt"/>
<line x1="167.2" y1="960.6" x2="173.7" y2="960.6" stroke="#707174" stroke-width="1.6" stroke-linecap="butt"/>
<line x1="745.4" y1="960.6" x2="751.9" y2="960.6" stroke="#707174" stroke-width="1.6" stroke-linecap="butt"/>
<line x1="239.9" y1="906.8" x2="239.9" y2="913" stroke="#707174" stroke-width="1.6" stroke-linecap="butt"/>
<line x1="386.1" y1="906.8" x2="386.1" y2="913" stroke="#707174" stroke-width="1.6" stroke-linecap="butt"/>
<line x1="532.3" y1="906.8" x2="532.3" y2="913" stroke="#707174" stroke-width="1.6" stroke-linecap="butt"/>
<line x1="678.5" y1="906.8" x2="678.5" y2="913" stroke="#707174" stroke-width="1.6" stroke-linecap="butt"/>
<rect x="194" y="1058.9" width="26.8" height="170.7" fill="#5f6063" stroke="#505153" stroke-width="1.6"/>
<rect x="226.5" y="1073.3" width="26.8" height="156.3" fill="white" stroke="#505153" stroke-width="1.6"/>
<rect x="259" y="1194.1" width="26.8" height="35.5" fill="#b2b3b5" stroke="#505153" stroke-width="1.6"/>
<rect x="340.2" y="1207.8" width="26.8" height="21.8" fill="#5f6063" stroke="#505153" stroke-width="1.6"/>
<rect x="372.7" y="1211.4" width="26.8" height="18.2" fill="white" stroke="#505153" stroke-width="1.6"/>
<rect x="405.2" y="1191.6" width="26.8" height="38" fill="#b2b3b5" stroke="#505153" stroke-width="1.6"/>
<rect x="486.4" y="1200.8" width="26.8" height="28.8" fill="#5f6063" stroke="#505153" stroke-width="1.6"/>
<rect x="518.9" y="1197.3" width="26.8" height="32.3" fill="white" stroke="#505153" stroke-width="1.6"/>
<rect x="551.4" y="1198.7" width="26.8" height="30.9" fill="#b2b3b5" stroke="#505153" stroke-width="1.6"/>
<rect x="632.6" y="1208.1" width="26.8" height="21.5" fill="#5f6063" stroke="#505153" stroke-width="1.6"/>
<rect x="665.1" y="1211.4" width="26.8" height="18.2" fill="white" stroke="#505153" stroke-width="1.6"/>
<rect x="697.6" y="1192.8" width="26.8" height="36.8" fill="#b2b3b5" stroke="#505153" stroke-width="1.6"/>
<line x1="207.4" y1="1055.8" x2="207.4" y2="1063.4" stroke="#2a2a2a" stroke-width="1.4" stroke-linecap="butt"/>
<line x1="200.8" y1="1055.8" x2="214" y2="1055.8" stroke="#2a2a2a" stroke-width="1.5" stroke-linecap="butt"/>
<line x1="200.8" y1="1063.4" x2="214" y2="1063.4" stroke="#2a2a2a" stroke-width="1.5" stroke-linecap="butt"/>
<line x1="239.9" y1="1068.8" x2="239.9" y2="1078.3" stroke="#2a2a2a" stroke-width="1.4" stroke-linecap="butt"/>
<line x1="233.3" y1="1068.8" x2="246.5" y2="1068.8" stroke="#2a2a2a" stroke-width="1.5" stroke-linecap="butt"/>
<line x1="233.3" y1="1078.3" x2="246.5" y2="1078.3" stroke="#2a2a2a" stroke-width="1.5" stroke-linecap="butt"/>
<line x1="272.4" y1="1192" x2="272.4" y2="1196.1" stroke="#2a2a2a" stroke-width="1.4" stroke-linecap="butt"/>
<line x1="265.8" y1="1192" x2="279" y2="1192" stroke="#2a2a2a" stroke-width="1.5" stroke-linecap="butt"/>
<line x1="265.8" y1="1196.1" x2="279" y2="1196.1" stroke="#2a2a2a" stroke-width="1.5" stroke-linecap="butt"/>
<line x1="353.6" y1="1206.3" x2="353.6" y2="1209.4" stroke="#2a2a2a" stroke-width="1.4" stroke-linecap="butt"/>
<line x1="347" y1="1206.3" x2="360.2" y2="1206.3" stroke="#2a2a2a" stroke-width="1.5" stroke-linecap="butt"/>
<line x1="347" y1="1209.4" x2="360.2" y2="1209.4" stroke="#2a2a2a" stroke-width="1.5" stroke-linecap="butt"/>
<line x1="386.1" y1="1210" x2="386.1" y2="1213" stroke="#2a2a2a" stroke-width="1.4" stroke-linecap="butt"/>
<line x1="379.5" y1="1210" x2="392.7" y2="1210" stroke="#2a2a2a" stroke-width="1.5" stroke-linecap="butt"/>
<line x1="379.5" y1="1213" x2="392.7" y2="1213" stroke="#2a2a2a" stroke-width="1.5" stroke-linecap="butt"/>
<line x1="418.6" y1="1189.8" x2="418.6" y2="1193.7" stroke="#2a2a2a" stroke-width="1.4" stroke-linecap="butt"/>
<line x1="412" y1="1189.8" x2="425.2" y2="1189.8" stroke="#2a2a2a" stroke-width="1.5" stroke-linecap="butt"/>
<line x1="412" y1="1193.7" x2="425.2" y2="1193.7" stroke="#2a2a2a" stroke-width="1.5" stroke-linecap="butt"/>
<line x1="499.8" y1="1199.2" x2="499.8" y2="1202.8" stroke="#2a2a2a" stroke-width="1.4" stroke-linecap="butt"/>
<line x1="493.2" y1="1199.2" x2="506.4" y2="1199.2" stroke="#2a2a2a" stroke-width="1.5" stroke-linecap="butt"/>
<line x1="493.2" y1="1202.8" x2="506.4" y2="1202.8" stroke="#2a2a2a" stroke-width="1.5" stroke-linecap="butt"/>
<line x1="532.3" y1="1195.9" x2="532.3" y2="1199.2" stroke="#2a2a2a" stroke-width="1.4" stroke-linecap="butt"/>
<line x1="525.7" y1="1195.9" x2="538.9" y2="1195.9" stroke="#2a2a2a" stroke-width="1.5" stroke-linecap="butt"/>
<line x1="525.7" y1="1199.2" x2="538.9" y2="1199.2" stroke="#2a2a2a" stroke-width="1.5" stroke-linecap="butt"/>
<line x1="564.8" y1="1196.3" x2="564.8" y2="1201.2" stroke="#2a2a2a" stroke-width="1.4" stroke-linecap="butt"/>
<line x1="558.2" y1="1196.3" x2="571.4" y2="1196.3" stroke="#2a2a2a" stroke-width="1.5" stroke-linecap="butt"/>
<line x1="558.2" y1="1201.2" x2="571.4" y2="1201.2" stroke="#2a2a2a" stroke-width="1.5" stroke-linecap="butt"/>
<line x1="646" y1="1206.5" x2="646" y2="1210" stroke="#2a2a2a" stroke-width="1.4" stroke-linecap="butt"/>
<line x1="639.4" y1="1206.5" x2="652.6" y2="1206.5" stroke="#2a2a2a" stroke-width="1.5" stroke-linecap="butt"/>
<line x1="639.4" y1="1210" x2="652.6" y2="1210" stroke="#2a2a2a" stroke-width="1.5" stroke-linecap="butt"/>
<line x1="678.5" y1="1209" x2="678.5" y2="1213.4" stroke="#2a2a2a" stroke-width="1.4" stroke-linecap="butt"/>
<line x1="671.9" y1="1209" x2="685.1" y2="1209" stroke="#2a2a2a" stroke-width="1.5" stroke-linecap="butt"/>
<line x1="671.9" y1="1213.4" x2="685.1" y2="1213.4" stroke="#2a2a2a" stroke-width="1.5" stroke-linecap="butt"/>
<line x1="711" y1="1191" x2="711" y2="1194.7" stroke="#2a2a2a" stroke-width="1.4" stroke-linecap="butt"/>
<line x1="704.4" y1="1191" x2="717.6" y2="1191" stroke="#2a2a2a" stroke-width="1.5" stroke-linecap="butt"/>
<line x1="704.4" y1="1194.7" x2="717.6" y2="1194.7" stroke="#2a2a2a" stroke-width="1.5" stroke-linecap="butt"/>
<line x1="167.2" y1="1229.6" x2="751.9" y2="1229.6" stroke="#707174" stroke-width="1.9" stroke-linecap="butt"/>
<text transform="translate(144.68 1239.3) scale(0.94011 1)" font-size="23.467" font-weight="normal" fill="#3d3e40">0</text>
<text transform="translate(145.02 1185.5) scale(0.94011 1)" font-size="23.467" font-weight="normal" fill="#3d3e40">5</text>
<text transform="translate(132.41 1131.7) scale(0.94011 1)" font-size="23.467" font-weight="normal" fill="#3d3e40">10</text>
<text transform="translate(132.76 1077.9) scale(0.94011 1)" font-size="23.467" font-weight="normal" fill="#3d3e40">15</text>
<text transform="translate(132.41 1024.1) scale(0.94011 1)" font-size="23.467" font-weight="normal" fill="#3d3e40">20</text>
<text transform="translate(132.76 970.3) scale(0.94011 1)" font-size="23.467" font-weight="normal" fill="#3d3e40">25</text>
<text transform="translate(132.41 916.5) scale(0.94011 1)" font-size="23.467" font-weight="normal" fill="#3d3e40">30</text>
<text transform="translate(223.74 1263.1) scale(0.93497 1)" font-size="22.756" font-weight="normal" fill="#3d3e40">NE</text>
<text transform="translate(366.23 1263.1) scale(0.94100 1)" font-size="22.756" font-weight="normal" fill="#3d3e40">NW</text>
<text transform="translate(517.41 1263.1) scale(0.96902 1)" font-size="22.756" font-weight="normal" fill="#3d3e40">SE</text>
<text transform="translate(660.01 1263.1) scale(0.97634 1)" font-size="22.756" font-weight="normal" fill="#3d3e40">SW</text>
<text transform="translate(120.5 1252.35) rotate(-90) scale(1.01308 1)" font-size="24.511" font-weight="bold" fill="#474747">Mean % time in PF-area +/- SEM</text>
<rect x="598.9" y="929.8" width="130.2" height="123.2" fill="white" stroke="#707174" stroke-width="1.4"/>
<line x1="598.9" y1="963.1" x2="729.1" y2="963.1" stroke="#707174" stroke-width="1.4" stroke-linecap="butt"/>
<text transform="translate(616.31 954.6) scale(1.06881 1)" font-size="19.336" font-weight="bold" fill="#222222">Retention</text>
<rect x="605.6" y="969.9" width="67.4" height="20.9" fill="#5f6063" stroke="#505153" stroke-width="1.3"/>
<text transform="translate(677.12 988) scale(1.10332 1)" font-size="18.383" font-weight="normal" fill="#262626">Both</text>
<rect x="605.6" y="997.5" width="67.4" height="21" fill="white" stroke="#505153" stroke-width="1.3"/>
<text transform="translate(677.16 1015.6) scale(1.03460 1)" font-size="19.058" font-weight="normal" fill="#262626">Near</text>
<rect x="605.6" y="1025.6" width="67.4" height="21" fill="#b2b3b5" stroke="#505153" stroke-width="1.3"/>
<text transform="translate(677.1 1043.3) scale(1.06961 1)" font-size="19.200" font-weight="normal" fill="#262626">Far</text>
<text transform="translate(846.69 843.7) scale(1.01484 1)" font-size="31.864" font-weight="bold" fill="#231f20">6d.</text>
<text transform="translate(988.35 825.9) scale(1.09665 1)" font-size="22.604" font-weight="bold" fill="#231f20">Rats learn cues (far:near 80:20)</text>
<text transform="translate(989.13 856.6) scale(1.12960 1)" font-size="21.787" font-weight="bold" fill="#231f20">Confuse near as far 50% of time</text>
<ellipse cx="1463.2" cy="773.1" rx="19.35" ry="18.85" fill="#808185" stroke="#231f20" stroke-width="2.5"/>
<ellipse cx="1562" cy="771.8" rx="8.55" ry="8.7" fill="#808185" stroke="#231f20" stroke-width="2.4"/>
<ellipse cx="1516.2" cy="831.5" rx="50.4" ry="46.9" fill="none" stroke="#231f20" stroke-width="2.2"/>
<ellipse cx="1534.2" cy="818" rx="9.4" ry="9" fill="white" stroke="#231f20" stroke-width="2"/>
<rect x="988.7" y="905.2" width="585" height="322.8" fill="white" stroke="#707174" stroke-width="1.9"/>
<line x1="988.7" y1="1174.2" x2="995.2" y2="1174.2" stroke="#707174" stroke-width="1.6" stroke-linecap="butt"/>
<line x1="1567.2" y1="1174.2" x2="1573.7" y2="1174.2" stroke="#707174" stroke-width="1.6" stroke-linecap="butt"/>
<line x1="988.7" y1="1120.4" x2="995.2" y2="1120.4" stroke="#707174" stroke-width="1.6" stroke-linecap="butt"/>
<line x1="1567.2" y1="1120.4" x2="1573.7" y2="1120.4" stroke="#707174" stroke-width="1.6" stroke-linecap="butt"/>
<line x1="988.7" y1="1066.6" x2="995.2" y2="1066.6" stroke="#707174" stroke-width="1.6" stroke-linecap="butt"/>
<line x1="1567.2" y1="1066.6" x2="1573.7" y2="1066.6" stroke="#707174" stroke-width="1.6" stroke-linecap="butt"/>
<line x1="988.7" y1="1012.8" x2="995.2" y2="1012.8" stroke="#707174" stroke-width="1.6" stroke-linecap="butt"/>
<line x1="1567.2" y1="1012.8" x2="1573.7" y2="1012.8" stroke="#707174" stroke-width="1.6" stroke-linecap="butt"/>
<line x1="988.7" y1="959" x2="995.2" y2="959" stroke="#707174" stroke-width="1.6" stroke-linecap="butt"/>
<line x1="1567.2" y1="959" x2="1573.7" y2="959" stroke="#707174" stroke-width="1.6" stroke-linecap="butt"/>
<line x1="1061.7" y1="905.2" x2="1061.7" y2="911.4" stroke="#707174" stroke-width="1.6" stroke-linecap="butt"/>
<line x1="1207.9" y1="905.2" x2="1207.9" y2="911.4" stroke="#707174" stroke-width="1.6" stroke-linecap="butt"/>
<line x1="1354.1" y1="905.2" x2="1354.1" y2="911.4" stroke="#707174" stroke-width="1.6" stroke-linecap="butt"/>
<line x1="1500.3" y1="905.2" x2="1500.3" y2="911.4" stroke="#707174" stroke-width="1.6" stroke-linecap="butt"/>
<rect x="1015.8" y="1062.4" width="26.8" height="165.6" fill="#5f6063" stroke="#505153" stroke-width="1.6"/>
<rect x="1048.3" y="1190.8" width="26.8" height="37.2" fill="white" stroke="#505153" stroke-width="1.6"/>
<rect x="1080.8" y="1096.6" width="26.8" height="131.4" fill="#b2b3b5" stroke="#505153" stroke-width="1.6"/>
<rect x="1162" y="1195.4" width="26.8" height="32.6" fill="#5f6063" stroke="#505153" stroke-width="1.6"/>
<rect x="1194.5" y="1204.6" width="26.8" height="23.4" fill="white" stroke="#505153" stroke-width="1.6"/>
<rect x="1227" y="1203.3" width="26.8" height="24.7" fill="#b2b3b5" stroke="#505153" stroke-width="1.6"/>
<rect x="1308.2" y="1206.8" width="26.8" height="21.2" fill="#5f6063" stroke="#505153" stroke-width="1.6"/>
<rect x="1340.7" y="1153.6" width="26.8" height="74.4" fill="white" stroke="#505153" stroke-width="1.6"/>
<rect x="1373.2" y="1198.2" width="26.8" height="29.8" fill="#b2b3b5" stroke="#505153" stroke-width="1.6"/>
<rect x="1454.4" y="1211.1" width="26.8" height="16.9" fill="#5f6063" stroke="#505153" stroke-width="1.6"/>
<rect x="1486.9" y="1201.8" width="26.8" height="26.2" fill="white" stroke="#505153" stroke-width="1.6"/>
<rect x="1519.4" y="1199.7" width="26.8" height="28.3" fill="#b2b3b5" stroke="#505153" stroke-width="1.6"/>
<line x1="1029.2" y1="1058.4" x2="1029.2" y2="1066.7" stroke="#2a2a2a" stroke-width="1.4" stroke-linecap="butt"/>
<line x1="1022.6" y1="1058.4" x2="1035.8" y2="1058.4" stroke="#2a2a2a" stroke-width="1.5" stroke-linecap="butt"/>
<line x1="1022.6" y1="1066.7" x2="1035.8" y2="1066.7" stroke="#2a2a2a" stroke-width="1.5" stroke-linecap="butt"/>
<line x1="1061.7" y1="1189" x2="1061.7" y2="1193.2" stroke="#2a2a2a" stroke-width="1.4" stroke-linecap="butt"/>
<line x1="1055.1" y1="1189" x2="1068.3" y2="1189" stroke="#2a2a2a" stroke-width="1.5" stroke-linecap="butt"/>
<line x1="1055.1" y1="1193.2" x2="1068.3" y2="1193.2" stroke="#2a2a2a" stroke-width="1.5" stroke-linecap="butt"/>
<line x1="1094.2" y1="1093.7" x2="1094.2" y2="1099.8" stroke="#2a2a2a" stroke-width="1.4" stroke-linecap="butt"/>
<line x1="1087.6" y1="1093.7" x2="1100.8" y2="1093.7" stroke="#2a2a2a" stroke-width="1.5" stroke-linecap="butt"/>
<line x1="1087.6" y1="1099.8" x2="1100.8" y2="1099.8" stroke="#2a2a2a" stroke-width="1.5" stroke-linecap="butt"/>
<line x1="1175.4" y1="1192.7" x2="1175.4" y2="1197.8" stroke="#2a2a2a" stroke-width="1.4" stroke-linecap="butt"/>
<line x1="1168.8" y1="1192.7" x2="1182" y2="1192.7" stroke="#2a2a2a" stroke-width="1.5" stroke-linecap="butt"/>
<line x1="1168.8" y1="1197.8" x2="1182" y2="1197.8" stroke="#2a2a2a" stroke-width="1.5" stroke-linecap="butt"/>
<line x1="1207.9" y1="1202.2" x2="1207.9" y2="1207.4" stroke="#2a2a2a" stroke-width="1.4" stroke-linecap="butt"/>
<line x1="1201.3" y1="1202.2" x2="1214.5" y2="1202.2" stroke="#2a2a2a" stroke-width="1.5" stroke-linecap="butt"/>
<line x1="1201.3" y1="1207.4" x2="1214.5" y2="1207.4" stroke="#2a2a2a" stroke-width="1.5" stroke-linecap="butt"/>
<line x1="1240.4" y1="1201.5" x2="1240.4" y2="1205.5" stroke="#2a2a2a" stroke-width="1.4" stroke-linecap="butt"/>
<line x1="1233.8" y1="1201.5" x2="1247" y2="1201.5" stroke="#2a2a2a" stroke-width="1.5" stroke-linecap="butt"/>
<line x1="1233.8" y1="1205.5" x2="1247" y2="1205.5" stroke="#2a2a2a" stroke-width="1.5" stroke-linecap="butt"/>
<line x1="1321.6" y1="1205.7" x2="1321.6" y2="1208.3" stroke="#2a2a2a" stroke-width="1.4" stroke-linecap="butt"/>
<line x1="1315" y1="1205.7" x2="1328.2" y2="1205.7" stroke="#2a2a2a" stroke-width="1.5" stroke-linecap="butt"/>
<line x1="1315" y1="1208.3" x2="1328.2" y2="1208.3" stroke="#2a2a2a" stroke-width="1.5" stroke-linecap="butt"/>
<line x1="1354.1" y1="1150.8" x2="1354.1" y2="1157.7" stroke="#2a2a2a" stroke-width="1.4" stroke-linecap="butt"/>
<line x1="1347.5" y1="1150.8" x2="1360.7" y2="1150.8" stroke="#2a2a2a" stroke-width="1.5" stroke-linecap="butt"/>
<line x1="1347.5" y1="1157.7" x2="1360.7" y2="1157.7" stroke="#2a2a2a" stroke-width="1.5" stroke-linecap="butt"/>
<line x1="1386.6" y1="1196" x2="1386.6" y2="1200.3" stroke="#2a2a2a" stroke-width="1.4" stroke-linecap="butt"/>
<line x1="1380" y1="1196" x2="1393.2" y2="1196" stroke="#2a2a2a" stroke-width="1.5" stroke-linecap="butt"/>
<line x1="1380" y1="1200.3" x2="1393.2" y2="1200.3" stroke="#2a2a2a" stroke-width="1.5" stroke-linecap="butt"/>
<line x1="1467.8" y1="1209.6" x2="1467.8" y2="1212.6" stroke="#2a2a2a" stroke-width="1.4" stroke-linecap="butt"/>
<line x1="1461.2" y1="1209.6" x2="1474.4" y2="1209.6" stroke="#2a2a2a" stroke-width="1.5" stroke-linecap="butt"/>
<line x1="1461.2" y1="1212.6" x2="1474.4" y2="1212.6" stroke="#2a2a2a" stroke-width="1.5" stroke-linecap="butt"/>
<line x1="1500.3" y1="1199.9" x2="1500.3" y2="1204.6" stroke="#2a2a2a" stroke-width="1.4" stroke-linecap="butt"/>
<line x1="1493.7" y1="1199.9" x2="1506.9" y2="1199.9" stroke="#2a2a2a" stroke-width="1.5" stroke-linecap="butt"/>
<line x1="1493.7" y1="1204.6" x2="1506.9" y2="1204.6" stroke="#2a2a2a" stroke-width="1.5" stroke-linecap="butt"/>
<line x1="1532.8" y1="1197.7" x2="1532.8" y2="1201.8" stroke="#2a2a2a" stroke-width="1.4" stroke-linecap="butt"/>
<line x1="1526.2" y1="1197.7" x2="1539.4" y2="1197.7" stroke="#2a2a2a" stroke-width="1.5" stroke-linecap="butt"/>
<line x1="1526.2" y1="1201.8" x2="1539.4" y2="1201.8" stroke="#2a2a2a" stroke-width="1.5" stroke-linecap="butt"/>
<line x1="988.7" y1="1228" x2="1573.7" y2="1228" stroke="#707174" stroke-width="1.9" stroke-linecap="butt"/>
<text transform="translate(966.38 1237.7) scale(0.94011 1)" font-size="23.467" font-weight="normal" fill="#3d3e40">0</text>
<text transform="translate(966.72 1183.9) scale(0.94011 1)" font-size="23.467" font-weight="normal" fill="#3d3e40">5</text>
<text transform="translate(954.11 1130.1) scale(0.94011 1)" font-size="23.467" font-weight="normal" fill="#3d3e40">10</text>
<text transform="translate(954.46 1076.3) scale(0.94011 1)" font-size="23.467" font-weight="normal" fill="#3d3e40">15</text>
<text transform="translate(954.11 1022.5) scale(0.94011 1)" font-size="23.467" font-weight="normal" fill="#3d3e40">20</text>
<text transform="translate(954.46 968.7) scale(0.94011 1)" font-size="23.467" font-weight="normal" fill="#3d3e40">25</text>
<text transform="translate(954.11 914.9) scale(0.94011 1)" font-size="23.467" font-weight="normal" fill="#3d3e40">30</text>
<text transform="translate(1045.81 1261.5) scale(0.95229 1)" font-size="22.756" font-weight="normal" fill="#3d3e40">NE</text>
<text transform="translate(1188.11 1261.5) scale(0.95200 1)" font-size="22.756" font-weight="normal" fill="#3d3e40">NW</text>
<text transform="translate(1339.11 1261.5) scale(0.97599 1)" font-size="22.756" font-weight="normal" fill="#3d3e40">SE</text>
<text transform="translate(1481.6 1261.5) scale(0.98187 1)" font-size="22.756" font-weight="normal" fill="#3d3e40">SW</text>
<text transform="translate(942.3 1250.55) rotate(-90) scale(1.01308 1)" font-size="24.511" font-weight="bold" fill="#474747">Mean % time in PF-area +/- SEM</text>
<rect x="1420.6" y="928.1" width="129.9" height="123.1" fill="white" stroke="#707174" stroke-width="1.4"/>
<line x1="1420.6" y1="961.7" x2="1550.5" y2="961.7" stroke="#707174" stroke-width="1.4" stroke-linecap="butt"/>
<text transform="translate(1438.51 952.5) scale(1.11939 1)" font-size="18.383" font-weight="bold" fill="#222222">Retention</text>
<rect x="1427.3" y="968.1" width="67.6" height="20.6" fill="#5f6063" stroke="#505153" stroke-width="1.3"/>
<text transform="translate(1499.21 986.6) scale(1.10615 1)" font-size="18.383" font-weight="normal" fill="#262626">Both</text>
<rect x="1427.3" y="995.8" width="67.6" height="21" fill="white" stroke="#505153" stroke-width="1.3"/>
<text transform="translate(1499.27 1014.3) scale(1.02194 1)" font-size="19.200" font-weight="normal" fill="#262626">Near</text>
<rect x="1427.3" y="1024.2" width="67.6" height="20.6" fill="#b2b3b5" stroke="#505153" stroke-width="1.3"/>
<text transform="translate(1499.22 1042) scale(1.05490 1)" font-size="19.200" font-weight="normal" fill="#262626">Far</text>
</svg></body></html>
